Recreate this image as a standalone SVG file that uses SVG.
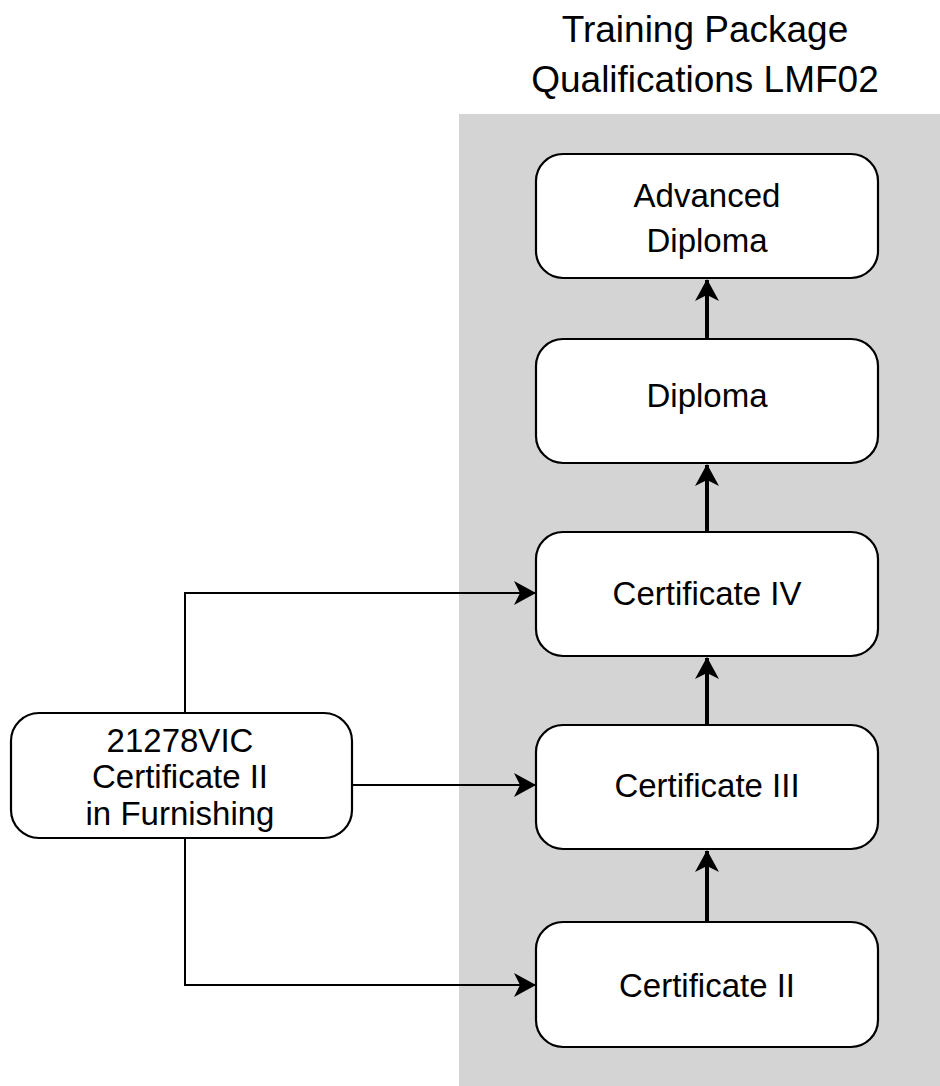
<svg xmlns="http://www.w3.org/2000/svg" width="940" height="1086" viewBox="0 0 940 1086">
<style>
.node{fill:#fff;stroke:#000;stroke-width:2.2}
.t{font-family:"Liberation Sans",Arial,sans-serif;font-size:33px;fill:#000;text-anchor:middle}
.title{font-family:"Liberation Sans",Arial,sans-serif;font-size:37px;fill:#000;text-anchor:middle}
.thin{fill:none;stroke:#000;stroke-width:2}
.thick{fill:none;stroke:#000;stroke-width:4}
</style>
<defs>
<marker id="ah" markerUnits="userSpaceOnUse" viewBox="0 0 22 24" refX="21" refY="12" markerWidth="22" markerHeight="24" orient="auto">
<path d="M0,0 L22,12 L0,24 L6,12 Z" fill="#000"/>
</marker>
</defs>
<rect x="459" y="114" width="481" height="972" fill="#d4d4d4"/>
<g id="title">
<text class="title" x="705" y="42">Training Package</text>
<text class="title" x="705" y="92">Qualifications LMF02</text>
</g>
<g id="connectors">
<path class="thick" d="M707,339 L707,280" marker-end="url(#ah)"/>
<path class="thick" d="M707,532 L707,465" marker-end="url(#ah)"/>
<path class="thick" d="M707,725 L707,658" marker-end="url(#ah)"/>
<path class="thick" d="M707,922 L707,851" marker-end="url(#ah)"/>
<path class="thin" d="M185,713 L185,593 L535,593" marker-end="url(#ah)"/>
<path class="thin" d="M352,785 L535,785" marker-end="url(#ah)"/>
<path class="thin" d="M185,838 L185,985 L535,985" marker-end="url(#ah)"/>
</g>
<g id="advanced-diploma">
<rect class="node" x="536" y="154" width="342" height="124" rx="27"/>
<text class="t" x="707" y="207">Advanced</text>
<text class="t" x="707" y="252">Diploma</text>
</g>
<g id="diploma">
<rect class="node" x="536" y="339" width="342" height="124" rx="27"/>
<text class="t" x="707" y="407">Diploma</text>
</g>
<g id="certificate-iv">
<rect class="node" x="536" y="532" width="342" height="124" rx="27"/>
<text class="t" x="707" y="605">Certificate IV</text>
</g>
<g id="certificate-iii">
<rect class="node" x="536" y="725" width="342" height="124" rx="27"/>
<text class="t" x="707" y="797">Certificate III</text>
</g>
<g id="certificate-ii">
<rect class="node" x="536" y="922" width="342" height="125" rx="27"/>
<text class="t" x="707" y="997">Certificate II</text>
</g>
<g id="furnishing">
<rect class="node" x="11" y="713" width="341" height="125" rx="28"/>
<text class="t" x="180" y="752">21278VIC</text>
<text class="t" x="180" y="788">Certificate II</text>
<text class="t" x="180" y="825">in Furnishing</text>
</g>
</svg>
